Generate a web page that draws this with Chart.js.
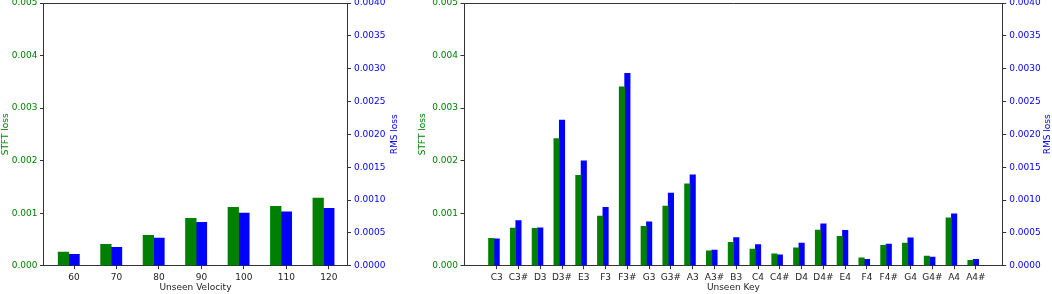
<!DOCTYPE html>
<html>
<head>
<meta charset="utf-8">
<script src="https://cdn.jsdelivr.net/npm/chart.js@4.4.0/dist/chart.umd.min.js"></script>
<style>
body { margin: 0; background: #fff; }
#wrap { position: relative; width: 1052px; height: 294px; }
canvas { position: absolute; top: 0; }
</style>
</head>
<body>
<div id="wrap">
  <canvas id="velChart" width="410" height="294" style="left:0"></canvas>
  <canvas id="keyChart" width="642" height="294" style="left:410px"></canvas>
</div>
<script>
// 左圖: velocity
const velocityLabels = ['60', '70', '80', '90', '100', '110', '120']
const velocitySTFT = [0.00026, 0.000405, 0.00058, 0.0009, 0.00111, 0.00113, 0.001285]
const velocityRMS = [0.000172, 0.000278, 0.00042, 0.00066, 0.0008, 0.00082, 0.000875]

// 右圖: key
const keyLabels = ['C3', 'C3#', 'D3', 'D3#', 'E3', 'F3', 'F3#', 'G3', 'G3#', 'A3', 'A3#', 'B3',
    'C4', 'C4#', 'D4', 'D4#', 'E4', 'F4', 'F4#', 'G4', 'G4#', 'A4', 'A4#']
const keySTFT = [0.00052, 0.000715, 0.00071, 0.00242, 0.00172, 0.000943, 0.003405, 0.000747, 0.001133, 0.001557, 0.000285, 0.000443,
    0.000316, 0.000228, 0.000342, 0.000677, 0.000557, 0.000152, 0.000386, 0.00043, 0.000184, 0.000911, 0.000101]
const keyRMS = [0.000409, 0.000687, 0.000576, 0.002217, 0.001596, 0.000889, 0.002929, 0.000667, 0.001106, 0.001384, 0.000237, 0.000429,
    0.000323, 0.000167, 0.000343, 0.000636, 0.00054, 0.000096, 0.000328, 0.000424, 0.000131, 0.000788, 0.000096]

const GREEN = '#008000'
const BLUE = '#0000ff'
const AXIS = '#333'
const font = { family: '"DejaVu Sans", sans-serif', size: 9 }

// 上框線 + 右側 RMS 標題 (由下往上)
const frameAndTitle = {
    id: 'frameAndTitle',
    afterDraw(chart, args, o) {
        const { ctx, chartArea } = chart
        ctx.save()
        ctx.strokeStyle = AXIS
        ctx.lineWidth = 1
        const y = Math.round(chartArea.top) + 0.5
        ctx.beginPath()
        ctx.moveTo(chartArea.left, y)
        ctx.lineTo(chartArea.right, y)
        ctx.stroke()
        ctx.translate(o.x, (chartArea.top + chartArea.bottom) / 2)
        ctx.rotate(-Math.PI / 2)
        ctx.fillStyle = BLUE
        ctx.font = '9px "DejaVu Sans"'
        ctx.textAlign = 'center'
        ctx.textBaseline = 'middle'
        ctx.fillText('RMS loss', 0, 0)
        ctx.restore()
    }
}

function makeChart(id, labels, stft, rms, set) {
    const ctx = document.getElementById(id).getContext('2d')
    return new Chart(ctx, {
        type: 'bar',
        data: {
            datasets: [
                {
                    label: 'STFT loss',
                    data: stft.map((v, i) => ({ x: i - 0.25, y: v })),
                    backgroundColor: GREEN,
                    yAxisID: 'y',
                    grouped: false,
                    barPercentage: 1,
                    categoryPercentage: 1
                },
                {
                    label: 'RMS loss',
                    data: rms.map((v, i) => ({ x: i, y: v })),
                    backgroundColor: BLUE,
                    yAxisID: 'y1',
                    grouped: false,
                    barPercentage: 1,
                    categoryPercentage: 1
                }
            ]
        },
        options: {
            responsive: false,
            animation: false,
            layout: { padding: { top: 3, left: 0, right: 0, bottom: 0 } },
            plugins: {
                legend: { display: false },
                tooltip: { enabled: false },
                frameAndTitle: { x: set.rmsTitleX }
            },
            scales: {
                x: {
                    type: 'linear',
                    min: set.xMin,
                    max: set.xMax,
                    offset: false,
                    afterBuildTicks: s => { s.ticks = labels.map((_, i) => ({ value: i })) },
                    afterFit: s => { s.height = 28.3; s.paddingLeft = 0; s.paddingRight = 0 },
                    ticks: {
                        autoSkip: false,
                        maxRotation: 0,
                        padding: 3,
                        color: '#222',
                        font: font,
                        callback: v => labels[Math.round(v)]
                    },
                    grid: { drawOnChartArea: false, offset: false, tickLength: 3.5, color: AXIS },
                    border: { color: AXIS },
                    title: { display: true, text: set.xTitle, color: '#222', font: font, padding: { top: 0, bottom: 1 } }
                },
                y: {
                    position: 'left',
                    min: 0,
                    max: 0.005,
                    afterFit: s => { s.width = set.leftW; s.paddingTop = 0; s.paddingBottom = 0 },
                    ticks: { stepSize: 0.001, color: GREEN, font: font, padding: 2.5, callback: v => v.toFixed(3) },
                    grid: { drawOnChartArea: false, tickLength: 3.5, color: AXIS },
                    border: { color: AXIS },
                    title: { display: true, text: 'STFT loss', color: GREEN, font: font, padding: { top: set.leftTitlePad, bottom: 0 } }
                },
                y1: {
                    position: 'right',
                    min: 0,
                    max: 0.004,
                    afterFit: s => { s.width = set.rightW; s.paddingTop = 0; s.paddingBottom = 0 },
                    ticks: { stepSize: 0.0005, color: BLUE, font: font, padding: 3, callback: v => v.toFixed(4) },
                    grid: { drawOnChartArea: false, tickLength: 3.5, color: AXIS },
                    border: { color: AXIS }
                }
            }
        },
        plugins: [frameAndTitle]
    })
}

makeChart('velChart', velocityLabels, velocitySTFT, velocityRMS, {
    xMin: -0.72, xMax: 6.44, leftW: 43.5, rightW: 62.5, leftTitlePad: 0, rmsTitleX: 395, xTitle: 'Unseen Velocity'
})

makeChart('keyChart', keyLabels, keySTFT, keyRMS, {
    xMin: -1.5, xMax: 23.23, leftW: 54, rightW: 49.3, leftTitlePad: 7, rmsTitleX: 638, xTitle: 'Unseen Key'
})
</script>
</body>
</html>
